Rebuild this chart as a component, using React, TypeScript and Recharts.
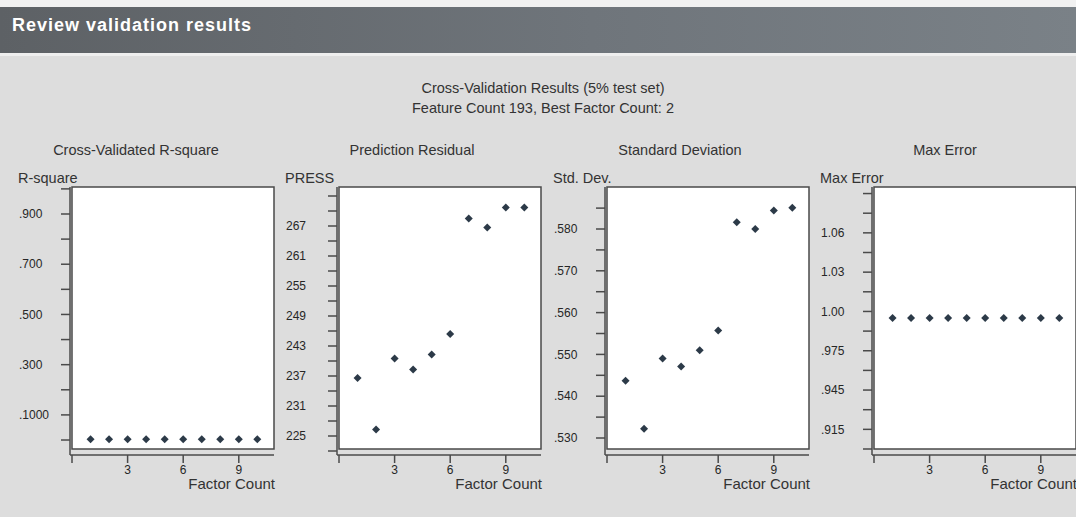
import React from "react";
import { ScatterChart, Scatter, XAxis, YAxis, ReferenceArea } from "recharts";

// values, factor counts 1..10
const factorCounts = [1, 2, 3, 4, 5, 6, 7, 8, 9, 10];
const rSquare = [0.003, 0.003, 0.003, 0.003, 0.003, 0.003, 0.003, 0.003, 0.003, 0.003];
const press = [236.6, 226.3, 240.5, 238.3, 241.3, 245.4, 268.5, 266.7, 270.7, 270.7];
const stdDev = [0.5437, 0.5322, 0.549, 0.5471, 0.551, 0.5557, 0.5816, 0.58, 0.5844, 0.5851];
const maxError = [1.0, 1.0, 1.0, 1.0, 1.0, 1.0, 1.0, 1.0, 1.0, 1.0];

const xTicks = [0, 3, 6, 9];

const rSquareTicks = [0, 0.1, 0.2, 0.3, 0.4, 0.5, 0.6, 0.7, 0.8, 0.9, 1.0];
const rSquareLabels = ["", ".1000", "", ".300", "", ".500", "", ".700", "", ".900", ""];

const pressTicks = [222, 225, 228, 231, 234, 237, 240, 243, 246, 249, 252, 255, 258, 261, 264, 267, 270, 273];
const pressLabels = ["", "225", "", "231", "", "237", "", "243", "", "249", "", "255", "", "261", "", "267", "", ""];

const stdDevTicks = [0.53, 0.535, 0.54, 0.545, 0.55, 0.555, 0.56, 0.565, 0.57, 0.575, 0.58, 0.585];
const stdDevLabels = [".530", "", ".540", "", ".550", "", ".560", "", ".570", "", ".580", ""];

const maxErrorTicks = [0.9, 0.915, 0.93, 0.945, 0.96, 0.975, 0.99, 1.005, 1.02, 1.035, 1.05, 1.065, 1.08, 1.095];
const maxErrorLabels = ["", ".915", "", ".945", "", ".975", "", "1.00", "", "1.03", "", "1.06", "", ""];

const FONT = '"Liberation Sans", Arial, sans-serif';
const INK = "#333";
const LINE = "#4a4a4a";
const DOT = "#2c3a48";

interface PanelProps {
  title: string;
  titleCenter: number;
  yLabel: string;
  values: number[];
  ticks: number[];
  labels: string[];
  box: [number, number];
  boxLeft: number;
}

function Panel({ title, titleCenter, yLabel, values, ticks, labels, box, boxLeft }: PanelProps) {
  const data = factorCounts.map((x, i) => ({ x, y: values[i] }));
  // axis lines sit a little outside the white box
  const yDomain = [box[0] - ((box[1] - box[0]) * 6) / 262, box[1]];
  const xDomain = [-2 / 18.5, 10.9];

  const YTick = (props: any) => {
    const idx = ticks.findIndex((t) => Math.abs(t - props.payload.value) < 1e-9);
    return (
      <text x={3} y={props.y} dy="0.35em" textAnchor="start" fontSize={12} fill="#262626" fontFamily={FONT}>
        {idx >= 0 ? labels[idx] : ""}
      </text>
    );
  };

  return (
    <>
      <div
        style={{
          position: "absolute",
          left: titleCenter - 150,
          width: 300,
          top: 140,
          lineHeight: "20px",
          textAlign: "center",
          fontSize: 14.5,
          color: INK,
          fontFamily: FONT,
        }}
      >
        {title}
      </div>
      <div style={{ position: "absolute", left: boxLeft - 56, top: 160 }}>
        <ScatterChart width={264} height={335} margin={{ top: 27, right: 6, left: 0, bottom: 0 }}>
          <XAxis
            type="number"
            dataKey="x"
            domain={xDomain}
            ticks={xTicks}
            interval={0}
            allowDataOverflow
            tickSize={8}
            tickMargin={2}
            height={40}
            stroke={LINE}
            strokeWidth={1.5}
            tickFormatter={(v) => (v === 0 ? "" : String(v))}
            tick={{ fill: "#262626", fontSize: 12, fontFamily: FONT }}
            label={{
              content: (p: any) => (
                <text
                  x={p.viewBox.x + p.viewBox.width + 1}
                  y={p.viewBox.y + 34}
                  textAnchor="end"
                  fontSize={15}
                  fill={INK}
                  fontFamily={FONT}
                >
                  Factor Count
                </text>
              ),
            }}
          />
          <YAxis
            type="number"
            dataKey="y"
            domain={yDomain}
            ticks={ticks}
            interval={0}
            allowDataOverflow
            width={54}
            tickSize={9}
            stroke={LINE}
            strokeWidth={1.5}
            tick={YTick}
            label={{
              content: (p: any) => (
                <text x={2} y={p.viewBox.y - 4} textAnchor="start" fontSize={14.5} fill={INK} fontFamily={FONT}>
                  {yLabel}
                </text>
              ),
            }}
          />
          <ReferenceArea
            x1={0}
            x2={10.9}
            y1={box[0]}
            y2={box[1]}
            fill="#ffffff"
            fillOpacity={1}
            stroke={LINE}
            strokeWidth={1.5}
          />
          <Scatter
            data={data}
            fill={DOT}
            isAnimationActive={false}
            shape={(p: any) => (
              <path
                d={`M${p.cx},${p.cy - 4}L${p.cx + 4},${p.cy}L${p.cx},${p.cy + 4}L${p.cx - 4},${p.cy}Z`}
                fill={DOT}
              />
            )}
          />
        </ScatterChart>
      </div>
    </>
  );
}

export default function App() {
  return (
    <div
      style={{
        position: "absolute",
        left: 0,
        top: 0,
        width: 1076,
        height: 517,
        overflow: "hidden",
        background: "#dddddd",
        fontFamily: FONT,
      }}
    >
      <div style={{ position: "absolute", left: 0, top: 0, width: 1076, height: 7, background: "#f1f1f1" }} />
      <div
        style={{
          position: "absolute",
          left: 0,
          top: 7,
          width: 1076,
          height: 46,
          background: "linear-gradient(to right, #5d6165, #6f757b 55%, #7a8187)",
        }}
      />
      <div style={{ position: "absolute", left: 0, top: 53, width: 1076, height: 3, background: "#eeeeee" }} />
      <div
        style={{
          position: "absolute",
          left: 12,
          top: 14,
          lineHeight: "22px",
          fontSize: 18,
          fontWeight: "bold",
          letterSpacing: 1,
          color: "#ffffff",
        }}
      >
        Review validation results
      </div>
      <div
        style={{
          position: "absolute",
          left: 343,
          width: 400,
          top: 78,
          lineHeight: "20px",
          textAlign: "center",
          fontSize: 14.5,
          color: INK,
        }}
      >
        <div>Cross-Validation Results (5% test set)</div>
        <div>Feature Count 193, Best Factor Count: 2</div>
      </div>
      <Panel
        title="Cross-Validated R-square"
        titleCenter={136}
        yLabel="R-square"
        values={rSquare}
        ticks={rSquareTicks}
        labels={rSquareLabels}
        box={[-0.0358, 1.0075]}
        boxLeft={72}
      />
      <Panel
        title="Prediction Residual"
        titleCenter={412}
        yLabel="PRESS"
        values={press}
        ticks={pressTicks}
        labels={pressLabels}
        box={[222.4, 274.8]}
        boxLeft={339}
      />
      <Panel
        title="Standard Deviation"
        titleCenter={680}
        yLabel="Std. Dev."
        values={stdDev}
        ticks={stdDevTicks}
        labels={stdDevLabels}
        box={[0.52737, 0.59005]}
        boxLeft={607}
      />
      <Panel
        title="Max Error"
        titleCenter={945}
        yLabel="Max Error"
        values={maxError}
        ticks={maxErrorTicks}
        labels={maxErrorLabels}
        box={[0.9, 1.1]}
        boxLeft={874}
      />
    </div>
  );
}
